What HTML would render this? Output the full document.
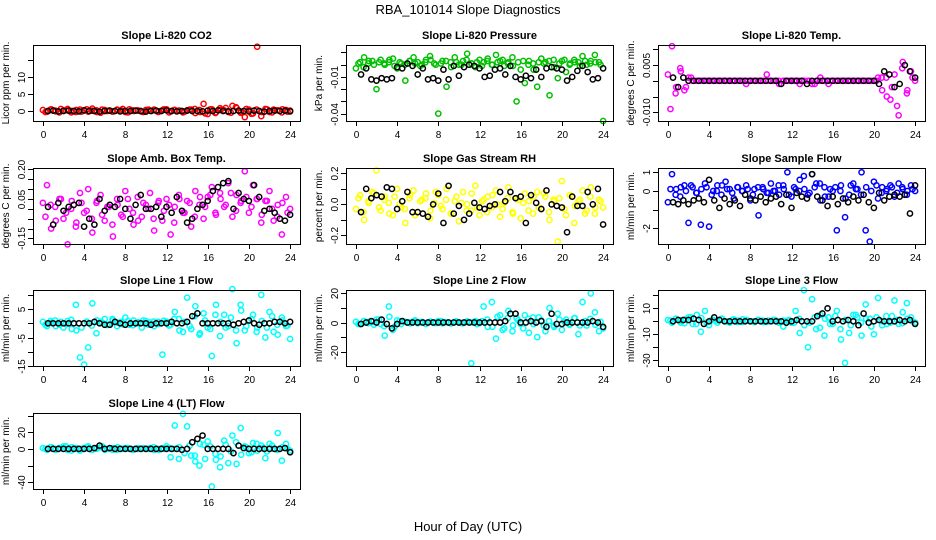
<!DOCTYPE html>
<html><head><meta charset="utf-8"><style>
html,body{margin:0;padding:0;background:#fff;}
svg{display:block;font-family:"Liberation Sans",Arial,sans-serif;}
</style></head><body>
<svg id="chart" width="936" height="540" viewBox="0 0 936 540" xmlns="http://www.w3.org/2000/svg">
<rect width="936" height="540" fill="#fff"/>
<text x="468" y="14" text-anchor="middle" font-size="13">RBA_101014  Slope Diagnostics</text>
<text x="468" y="531" text-anchor="middle" font-size="13">Hour of Day (UTC)</text>
</svg>
<script>
const xTicks = [0,4,8,12,16,20,24];
const titles = ["Slope Li-820 CO2","Slope Li-820 Pressure","Slope Li-820 Temp.","Slope Amb. Box Temp.","Slope Gas Stream RH","Slope Sample Flow","Slope Line 1 Flow","Slope Line 2 Flow","Slope Line 3 Flow","Slope Line 4 (LT) Flow"];
const yTitles = ["Licor ppm per min.","kPa per min.","degrees C per min.","degrees C per min.","percent per min.","ml/min per min.","ml/min per min.","ml/min per min.","ml/min per min.","ml/min per min."];
const colors = ["#ff0000","#00c000","#ff00ff","#ff00ff","#ffff00","#0000ff","#00ffff","#00ffff","#00ffff","#00ffff"];
const yTickVals = [[0,5,10,15],[0.01,0,-0.01,-0.02,-0.03,-0.04],[0.01,0.005,0,-0.005,-0.01],[0.2,0.15,0.1,0.05,0,-0.05,-0.1,-0.15],[0.2,0.1,0,-0.1,-0.2],[1,0,-1,-2],[10,5,0,-5,-10,-15],[20,10,0,-10,-20],[20,10,0,-10,-20,-30],[40,20,0,-20,-40]];
const yTickLabels = [["0","5","10",""],["","","-0.01","","","-0.04"],["","0.005","","","-0.010"],["0.20","","","0.05","","","","-0.15"],["0.2","","0.0","","-0.2"],["1","0","","-2"],["","5","","-5","","-15"],["20","","0","","-20"],["","10","","-10","","-30"],["","20","0","","-40"]];
const yRanges = [[-2.94,19.4],[-0.046,0.0161],[-0.0128,0.0114],[-0.178,0.2066],[-0.256,0.235],[-2.83,1.23],[-15.0,11.7],[-29.8,22.3],[-34.4,24.1],[-48,43]];

const c1 = [0.3,-0.2,0.5,0.1,-0.4,0.2,0.6,0.0,-0.3,0.4,0.1,-0.2,0.7,0.2,-0.5,0.3,0.1,-0.1,0.4,0.2,-0.3,0.5,0.0,0.2,-0.2,0.3,0.1,0.4,-0.3,0.2,0.5,-0.1,0.3,0.1,-0.4,0.2,0.4,-0.6,0.3,2.1,-0.9,0.5,-0.4,0.8,0.2,-0.3,1.5,0.9,-0.5,-1.8,0.4,-0.7,18.9,-1.5,0.6,-0.3,0.4,0.2,-0.4,0.3,0.1];
const b1 = [0,0.1,-0.1,0,0.1,0,-0.1,0.2,0,0,-0.2,0,0.1,0,-0.1,0,0,0.1,0,-0.2,0,0.1,0,0.2,0,-0.1,0,0.1,0,0,-0.1,0.1,0,0.2,0,-0.1,0,0.1,0,-0.1,0.1,0,-0.2,0,0.1,0,0.1,-0.1];
const d1 = [-0.3,0.4,-0.1,0.6,0.2,-0.4,0.3,-0.2,0.5,0.1,-0.3,0.4,0.0,-0.2,0.3,0.6,-0.4,0.2,0.1,-0.3,0.4,0.2,-0.1,0.5,-0.4,0.3,0.1,-0.2,0.4,0.6,-0.3,-0.7,0.5,-0.6,0.3,0.9,-0.5,1.1,-0.2,0.6,-0.8,0.4,-0.3,0.5,-0.4,0.2,0.5,-0.2];
const c2 = [-0.003,0.002,0.006,0.001,0.003,-0.02,0.004,0.000,0.002,0.005,-0.003,0.001,-0.013,0.003,0.006,0.002,0.000,0.004,0.007,0.001,-0.040,0.003,-0.018,0.002,0.006,0.000,0.003,0.009,0.001,-0.002,0.004,0.002,0.005,0.000,0.008,0.003,-0.001,0.002,0.006,-0.030,-0.004,-0.015,0.003,0.001,-0.018,0.005,0.002,-0.025,0.004,-0.011,0.003,-0.006,0.001,0.004,0.002,0.007,0.000,0.003,0.008,0.002,-0.046];
const b2 = [-0.008,-0.003,-0.012,-0.013,-0.011,-0.012,-0.011,-0.002,-0.003,0.001,-0.001,-0.008,-0.003,-0.012,-0.011,-0.013,-0.004,-0.012,-0.001,-0.009,-0.002,0.000,-0.001,-0.003,-0.010,-0.009,-0.004,-0.003,-0.008,-0.001,-0.010,-0.012,-0.009,-0.011,-0.004,-0.010,-0.003,-0.002,-0.003,-0.004,-0.013,-0.010,-0.005,-0.001,-0.006,-0.012,-0.011,-0.003];
const d2 = [0.001,-0.002,0.003,0.000,0.002,0.001,0.004,-0.001,0.002,0.000,0.003,0.001,-0.001,0.002,0.004,0.000,0.001,0.003,-0.002,0.002,0.000,0.004,0.001,0.002,-0.001,0.003,0.000,0.002,0.004,0.001,-0.001,0.002,0.003,0.000,-0.004,0.002,0.001,0.003,-0.002,0.001,0.004,0.000,0.002,-0.001,0.003,0.001,0.002,0.000];
const c3 = [0.002,0.011,-0.002,0.004,-0.003,0.001,0,0,0,0,0,0,0,0,0,0,0,0,0,-0.001,0,0,0,0,0.002,0,0,-0.001,0,0,0,0,-0.001,0,0,-0.001,0,0.001,0,-0.001,0,0,0,0,0,0,0,0,0,0,0,0.001,-0.003,0.001,-0.006,0.002,-0.011,0.006,-0.004,0.003,0];
const b3 = [0.001,-0.002,0.001,0,0,0,0,0,0,0,0,0,0,0,0,0,0,0,0,0,0,-0.001,0,0,0,0,-0.001,0,0,0,0,0,0,0,0,0,0,0,0,0,-0.001,0.003,0.002,-0.002,-0.001,0.005,0.003,0.001];
const d3 = [-0.009,-0.004,0.003,-0.002,0.001,0,0,0,0,0,0,0,0,0,0,0,0,0,0,0,0,0,0,0,0,0,0,0,-0.001,0,0,0,0,0,0,0,0,0,0,0,0,0.001,-0.005,-0.002,-0.008,0.004,-0.003,0.001];
const c4 = [0.03,0.12,-0.10,0.01,0.05,-0.05,-0.18,0.04,-0.09,0.08,-0.02,0.10,-0.12,0.03,0.07,-0.06,0.01,-0.14,0.05,-0.03,0.09,0.00,-0.08,0.06,-0.04,0.02,0.08,-0.11,0.03,-0.06,0.05,-0.13,0.01,0.07,-0.02,0.04,-0.09,0.09,0.02,-0.05,0.06,0.11,-0.03,0.08,0.01,0.13,-0.04,0.07,0.03,0.19,-0.02,0.12,0.05,-0.07,0.04,0.09,-0.06,0.02,-0.13,0.06,0.00];
const b4 = [0.01,-0.08,0.03,-0.01,0.01,0.02,0.03,-0.09,-0.05,-0.08,0.05,-0.01,0.02,0.01,0.05,0.00,-0.05,0.02,0.07,0.00,0.00,0.01,-0.04,0.01,-0.02,0.06,-0.01,-0.07,-0.05,0.00,0.02,0.04,0.09,0.11,0.13,0.14,0.00,0.08,0.05,0.04,0.12,0.06,-0.01,0.00,-0.02,-0.05,-0.06,-0.03];
const d4 = [-0.04,0.02,-0.06,0.05,-0.02,0.00,-0.07,0.03,-0.01,-0.05,0.04,-0.03,0.01,-0.08,0.02,-0.04,0.05,-0.02,-0.06,0.03,0.00,-0.05,0.04,-0.01,0.02,-0.07,0.05,-0.02,0.03,-0.04,0.06,0.01,0.07,-0.02,0.05,0.02,0.08,-0.01,0.04,0.06,0.01,0.05,-0.03,0.04,0.00,-0.04,0.03,-0.02];
const c5 = [-0.03,0.06,-0.10,0.02,0.08,0.22,-0.04,0.05,0.01,-0.07,0.10,-0.02,-0.12,0.04,0.09,-0.05,0.03,0.07,-0.09,0.01,0.06,-0.03,0.10,-0.06,0.02,-0.11,0.08,0.00,-0.04,0.12,-0.07,0.03,0.05,-0.02,0.09,-0.08,0.01,0.11,-0.05,0.04,-0.09,0.07,0.02,-0.06,0.08,-0.03,0.05,-0.10,0.03,-0.24,0.15,-0.07,0.06,-0.12,0.02,0.09,-0.04,0.11,-0.06,0.03,-0.02];
const b5 = [-0.05,0.10,0.04,0.06,0.05,0.11,0.10,-0.03,0.02,0.08,-0.05,-0.05,-0.06,-0.08,0.00,0.07,-0.12,0.12,-0.06,-0.01,-0.10,-0.06,0.01,-0.02,-0.03,-0.01,0.00,0.08,0.02,0.08,0.04,0.05,-0.12,0.06,0.01,-0.03,0.09,0.00,-0.01,-0.02,-0.18,0.05,-0.01,-0.01,0.08,0.00,0.10,-0.13];
const d5 = [0.04,-0.05,0.01,0.07,-0.02,0.03,-0.06,0.05,0.00,-0.03,0.06,-0.07,0.02,0.04,-0.04,0.08,-0.01,0.03,-0.06,0.05,0.01,-0.04,0.07,-0.02,0.02,-0.05,0.06,0.00,-0.03,0.04,-0.06,0.03,0.01,-0.04,0.05,-0.02,0.07,-0.05,0.02,0.04,-0.03,0.06,-0.01,0.03,-0.06,0.05,-0.02,0.02];
const c6 = [-0.6,0.9,0.1,-0.3,0.3,-1.7,0.2,-0.1,-1.8,0.4,-1.9,0.0,0.3,-0.2,0.5,0.1,-0.4,0.2,0.0,0.3,-0.5,0.1,-1.3,0.2,-0.1,0.4,0.0,-0.2,0.3,1.0,-0.3,0.1,0.6,0.8,-0.2,0.9,0.4,-0.5,0.2,-0.3,0.0,-2.1,0.3,-1.4,-0.2,0.4,0.1,1.0,-2.1,-2.7,0.5,-0.4,0.2,0.0,0.3,-0.3,0.4,0.1,-0.2,0.3,0.0];
const b6 = [-0.6,-0.7,-0.5,-0.7,-0.5,-0.4,-0.6,0.6,-0.5,-0.9,-0.4,-0.7,-0.5,-0.8,-0.2,-0.4,-0.5,-0.3,-0.6,-0.4,-0.3,-0.7,-0.2,-0.9,-0.1,-0.3,-0.4,0.9,-0.3,-0.5,-0.8,-0.3,-0.7,-0.4,-0.6,-0.3,-0.5,-0.2,-0.6,-0.9,-0.1,-0.5,-0.3,-0.2,-0.3,-0.2,-1.2,0.3];
const d6 = [0.1,-0.2,0.2,0.0,0.3,-0.1,0.1,0.2,-0.2,0.0,0.3,0.1,-0.1,0.2,0.0,0.1,-0.2,0.2,0.1,-0.1,0.0,0.3,0.1,-0.2,0.2,0.0,0.1,-0.1,0.2,0.4,-0.3,0.1,0.2,0.0,-0.4,0.3,0.1,-0.2,0.2,0.0,0.3,-0.1,0.1,0.2,-0.1,0.2,0.0,0.1];
const c7 = [0.5,-1.0,0.2,1.0,-0.5,-1.5,0.8,-2.0,6.5,-12.0,-14.5,-8.5,7.0,-3.5,0.5,1.5,-0.5,1.0,-1.0,0.5,2.0,-0.5,1.0,0.0,-1.5,0.8,0.3,-1.0,0.5,-11.0,0.6,-0.5,4.0,1.5,-3.0,9.0,-2.0,6.0,-4.0,3.5,-1.5,-11.5,6.5,-4.5,3.0,-1.0,12.0,-7.0,6.5,-2.5,1.0,3.0,-1.5,10.0,-5.0,4.0,-3.0,-4.0,2.0,-1.0,-5.5];
const b7 = [0,0,0,0,0,0,0,0,0,0.5,0,-0.5,-0.5,0.5,0,-0.5,0,0,0,0,-0.5,0,0,0,0.5,0,0,0.5,2.5,3.5,0,0,0,0,0,0,-0.5,0,0.5,1,0,-0.5,0,0,0.5,0.5,0,0.5];
const d7 = [-0.5,0.8,-1.0,0.5,-0.3,1.2,-2.5,-1.5,0.6,-0.8,1.0,0.3,-0.6,1.5,0.2,-0.4,0.8,-0.7,0.4,1.0,-0.5,0.6,-0.2,0.9,-0.8,1.5,-2.5,0.5,-1.0,2.5,-3.5,1.0,-2.0,3.0,0.5,-1.5,2.0,-2.5,4.5,-1.0,1.5,-3.0,0.8,-1.5,2.5,-0.5,1.0,-0.8];
const c8 = [0.5,-1.0,1.0,-0.5,0.5,2.0,-1.0,-9.0,11.0,-5.0,1.5,-1.0,0.5,0.0,1.0,-0.5,0.5,-1.0,0.5,0.0,1.0,-0.5,0.3,-0.5,0.5,0.0,-0.5,0.8,-28.0,1.0,-0.5,11.0,-3.0,14.0,-11.0,5.0,-4.0,8.0,-6.0,3.0,-1.0,5.0,-7.0,3.5,-10.0,1.5,-6.0,10.0,-2.0,6.0,-5.0,2.0,-1.0,3.0,-8.0,14.0,-2.0,20.0,7.0,-6.0,-4.0];
const b8 = [-1,0,1,0,2,-1,-4,-1,1,0,0,0,0,0,0,0,0,0,0,0,0,0,0,0,0,0,0,0,1,6,6,0,0,1,0,1,-3,6,-1,-1,0,0,0,0,0,1,0,-3];
const d8 = [-1.0,1.0,0.5,-1.5,2.0,-2.5,4.0,-3.0,1.0,0.5,-0.5,1.5,0.0,-0.8,0.6,-0.4,1.0,0.2,-0.6,0.8,-0.3,0.5,0.0,-1.0,1.0,2.0,-3.0,4.0,-5.0,3.0,-2.0,1.5,-4.0,2.5,-1.0,3.5,-2.0,1.0,-3.0,2.0,0.5,-1.5,3.0,-2.0,1.0,2.5,-1.5,0.5];
const c9 = [1.0,-1.0,2.0,0.5,-1.5,3.0,-2.0,5.0,-8.0,8.0,-3.0,1.0,-1.0,2.0,0.0,-1.0,1.5,0.5,-0.5,1.0,0.0,-0.5,1.0,0.5,-0.5,0.0,1.0,-1.0,-4.0,0.5,-1.0,8.0,-9.0,24.0,-20.0,17.0,-6.0,5.0,-11.0,3.0,-2.0,8.0,-14.0,-32.0,-9.0,5.0,3.0,-11.0,13.0,2.0,-10.0,18.0,-3.0,4.0,-1.0,16.0,-2.0,7.0,14.0,3.0,-1.0];
const b9 = [0,1,1,1,2,1,-2,0,3,1,0,0,0,0,0,0,0,0,0,0,0,0,-1,0,1,0,0,0,4,6,10,0,1,0,1,0,-3,6,-1,0,1,0,0,0,1,0,1,-2];
const d9 = [0.5,2.0,-1.0,1.5,3.0,-2.0,2.5,-1.0,1.0,0.5,2.0,0.0,1.0,-0.5,1.5,0.5,0.0,1.0,-0.5,0.5,1.0,0.0,0.5,1.0,-1.0,2.0,-3.0,-1.0,3.0,-5.0,2.0,-2.0,4.0,-6.0,1.0,-3.0,5.0,-1.0,2.0,-4.0,3.0,0.0,-2.0,4.0,1.0,-1.5,2.0,0.0];
const c10 = [1,-1,2,0,1,3,-1,2,0,-2,1,3,-1,0,2,-1,0,1,-1,0,1,0,-1,1,0,0,1,-1,0,1,3,-10,28,-12,42,27,-8,-15,-20,5,9,-45,-13,-22,10,-17,16,-18,25,3,-5,7,-2,4,-11,6,0,19,-14,6,-2];
const b10 = [0,0,0,0,0,0,0,0,0,1,4,0,1,0,0,0,0,0,0,0,0,0,0,0,0,0,-1,0,8,12,16,0,0,0,0,0,-5,4,1,0,0,0,0,0,0,0,1,-4];
const d10 = [0,2,-1,1,3,-2,1,0,2,-1,1,3,0,-1,2,0,1,-1,0,1,0,2,-1,0,1,0,2,-5,4,-8,6,-12,3,-6,-9,5,-3,8,-7,2,-4,6,1,-3,4,-1,2,0];

const colorSeries = [c1,c2,c3,c4,c5,c6,c7,c8,c9,c10];
const colorSeries2 = [d1,d2,d3,d4,d5,d6,d7,d8,d9,d10];
const blackSeries = [b1,b2,b3,b4,b5,b6,b7,b8,b9,b10];

const NS = "http://www.w3.org/2000/svg";
const svg = document.getElementById("chart");
const colLeft = [33,346,658], rowTop = [45,168,290,413], W = 267, H = 76;
function mk(tag, attrs, parent){ const e=document.createElementNS(NS,tag); for(const k in attrs) e.setAttribute(k,attrs[k]); (parent||svg).appendChild(e); return e; }

for (let p=0;p<10;p++){
  const L = colLeft[p%3], T = rowTop[Math.floor(p/3)];
  const [ymin,ymax] = yRanges[p];
  const xs = h => L + (h+0.96)/25.92*W;
  const ys = v => T + H - (v-ymin)/(ymax-ymin)*H;
  const g = mk("g",{});
  
  
  const t = mk("text",{x:L+W/2,y:T-6,"text-anchor":"middle","font-size":"11","font-weight":"bold"},g);
  t.textContent = titles[p];
  
  
  const yl = mk("text",{x:0,y:0,"text-anchor":"middle","font-size":"10",transform:`translate(${L-24},${T+H/2}) rotate(-90)`},g);
  yl.textContent = yTitles[p];
  
  
  const cs = colorSeries[p];
  for (let i=0;i<cs.length;i++){
    const h = i*24/(cs.length-1);
    const c = mk("circle",{cx:xs(h),cy:ys(cs[i]),r:2.6,fill:"none",stroke:colors[p],"stroke-width":1.5},g);
    
    
  }
  const ds = colorSeries2[p];
  for (let i=0;i<ds.length;i++){
    const h = 0.25+0.5*i;
    const c = mk("circle",{cx:xs(h),cy:ys(ds[i]),r:2.6,fill:"none",stroke:colors[p],"stroke-width":1.5},g);
    
    
  }
  const bs = blackSeries[p];
  for (let i=0;i<bs.length;i++){
    const h = 0.5*(i+1);
    const c = mk("circle",{cx:xs(h),cy:ys(bs[i]),r:2.6,fill:"none",stroke:"#000","stroke-width":1.5},g);
    
    
  }
  const box = mk("rect",{x:L+0.5,y:T+0.5,width:W,height:H,fill:"none",stroke:"#000","stroke-width":1},g);
  
  
  for (const v of xTicks){
    const x = Math.round(xs(v))+0.5;
    mk("line",{x1:x,x2:x,y1:T+H,y2:T+H+5,stroke:"#000"},g);
    const tl = mk("text",{x:x,y:T+H+17,"text-anchor":"middle","font-size":"10"},g);
    tl.textContent = v;
    
    
  }
  const tv = yTickVals[p], tlab = yTickLabels[p];
  for (let i=0;i<tv.length;i++){
    const y = Math.round(ys(tv[i]))+0.5;
    if (y < T-1 || y > T+H+2) continue;
    mk("line",{x1:L-5,x2:L,y1:y,y2:y,stroke:"#000"},g);
    if (tlab[i]){
      const tl = mk("text",{x:0,y:0,"text-anchor":"middle","font-size":"10",transform:`translate(${L-8},${y}) rotate(-90)`},g);
      tl.textContent = tlab[i];
      
      
    }
  }
}
</script>
</body></html>
